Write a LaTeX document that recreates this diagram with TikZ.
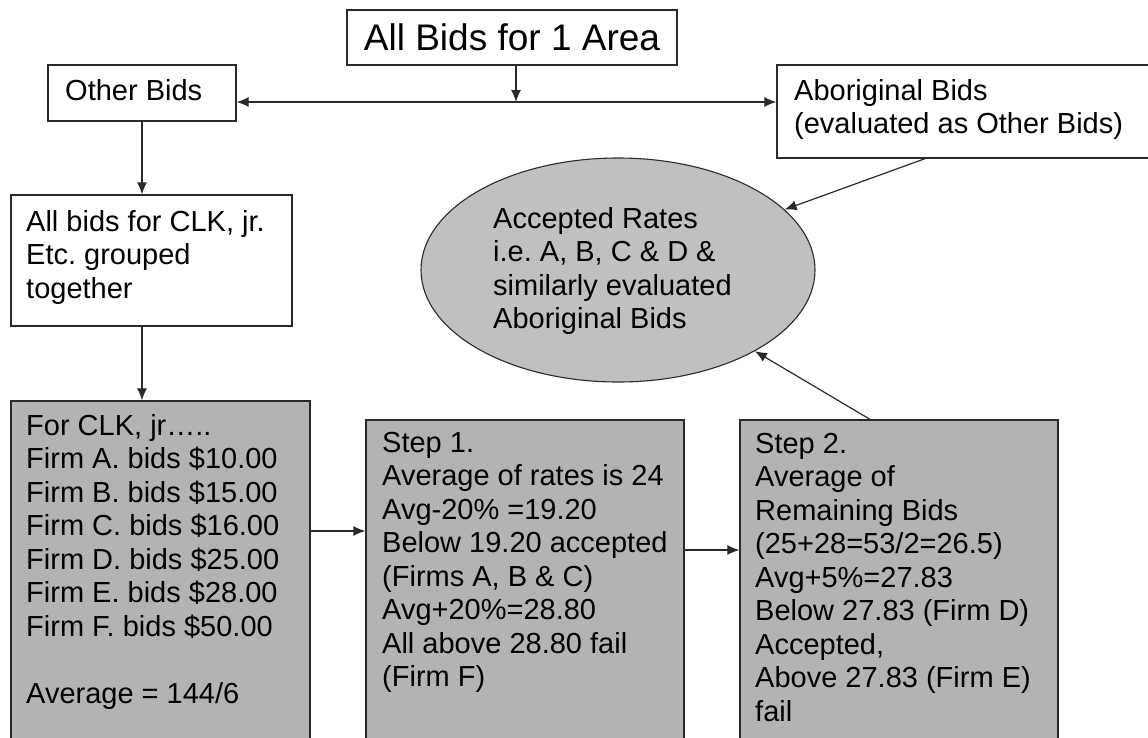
\documentclass[tikz,border=0pt]{standalone}
\usepackage{fontspec}
\setmainfont{Liberation Sans}
\usetikzlibrary{arrows.meta,shapes.geometric}
\definecolor{boxgrey}{HTML}{B3B3B3}
\definecolor{ellgrey}{HTML}{C0C0C0}
\definecolor{edge}{HTML}{2A2A2A}
\frenchspacing
\tikzset{
 wbox/.style={draw=edge, line width=1.3pt, fill=white, inner sep=0pt},
 gbox/.style={draw=edge, line width=1.3pt, fill=boxgrey, inner sep=0pt},
 txt/.style={inner sep=0pt, anchor=north west, align=left, font=\fontsize{29}{33.5}\selectfont},
 arr/.style={draw=edge, line width=1.2pt, -{Latex[length=12pt,width=10pt]}},
}
\begin{document}
\begin{tikzpicture}[x=1pt,y=-1pt]
\useasboundingbox (0,0) rectangle (1148,737);
\clip (0,0) rectangle (1148,737);
% boxes
\node[wbox, minimum width=330pt, minimum height=55pt, font=\fontsize{37}{42}\selectfont] (title) at (512,37.5) {All Bids for 1 Area};
\node[wbox, minimum width=188pt, minimum height=56pt] (other) at (142,93) {};
\node[wbox, minimum width=393pt, minimum height=93pt] (abor) at (973.5,111.5) {};
\node[wbox, minimum width=281pt, minimum height=131pt] (clk) at (151.5,260.5) {};
\node[gbox, minimum width=299pt, minimum height=359pt] (firms) at (160.5,580.5) {};
\node[gbox, minimum width=318pt, minimum height=340pt] (step1) at (525,590) {};
\node[gbox, minimum width=318pt, minimum height=340pt] (step2) at (899,590) {};
\node[ellipse, draw=edge, line width=1.1pt, fill=ellgrey, inner sep=0pt, minimum width=394pt, minimum height=224pt] (acc) at (618,270) {};
% texts
\node[txt] (othert) at (65,76.55) {\strut Other Bids};
\node[txt] (abort) at (794,76.55) {\strut Aboriginal Bids\\(evaluated as Other Bids)};
\node[txt] (clkt) at (26,207.55) {\strut All bids for CLK, jr.\\Etc. grouped\\together};
\node[txt] (acct) at (493,204.55) {\strut Accepted Rates\\i.e. A, B, C \& D \&\\similarly evaluated\\Aboriginal Bids};
\node[txt] (firmst) at (26,411.55) {\strut For CLK, jr…..\\Firm A. bids \$10.00\\Firm B. bids \$15.00\\Firm C. bids \$16.00\\Firm D. bids \$25.00\\Firm E. bids \$28.00\\Firm F. bids \$50.00\\[33.5pt]Average = 144/6};
\node[txt] (step1t) at (382,428.55) {\strut Step 1.\\Average of rates is 24\\Avg-20\% =19.20\\Below 19.20 accepted\\(Firms A, B \& C)\\Avg+20\%=28.80\\All above 28.80 fail\\(Firm F)};
\node[txt] (step2t) at (755,429.55) {\strut Step 2.\\Average of\\Remaining Bids\\(25+28=53/2=26.5)\\Avg+5\%=27.83\\Below 27.83 (Firm D)\\Accepted,\\Above 27.83 (Firm E)\\fail};
% connectors
\coordinate (j) at (516,102);
\coordinate (h1) at (0,531);
\coordinate (h2) at (0,550);
\draw[arr] (j |- title.south) -- (j);
\draw[arr] (j) -- (j -| other.east);
\draw[arr] (j) -- (j -| abor.west);
\draw[arr] (other.south) -- (other.south |- clk.north);
\draw[arr] (other.south |- clk.south) -- (other.south |- firms.north);
\draw[arr] (h1 -| firms.east) -- (h1 -| step1.west);
\draw[arr] (h2 -| step1.east) -- (h2 -| step2.west);
\draw[arr] (870,0 |- step2.north) -- (acc);
\draw[arr] (925,0 |- abor.south) -- (acc);
\end{tikzpicture}
\end{document}
